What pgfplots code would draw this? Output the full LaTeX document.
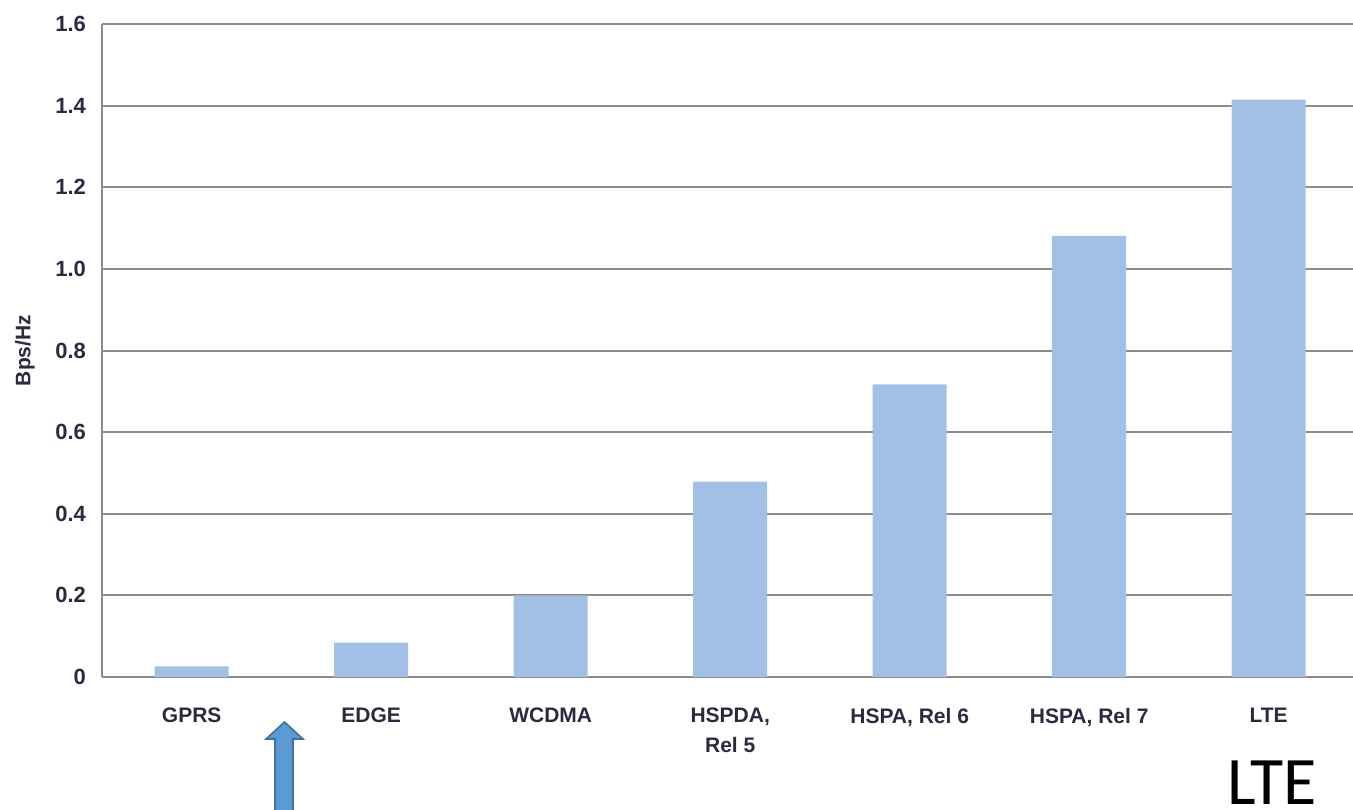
\documentclass[border=0pt]{standalone}
\usepackage{pgfplots}
\pgfplotsset{compat=1.18}
\usepackage{fontspec}
\setmainfont{Liberation Sans}
\newfontfamily\calib{Carlito}
\definecolor{barblue}{HTML}{A2C0E5}
\definecolor{gridgray}{HTML}{8C8C8C}
\definecolor{txt}{HTML}{2A2A40}
\definecolor{arrowfill}{HTML}{5B9BD5}
\definecolor{arrowdraw}{HTML}{41719C}
\begin{document}
\begin{tikzpicture}
\useasboundingbox (-51pt,-66pt) rectangle (625.5pt,338.5pt);
\begin{axis}[
  at={(0,0)}, anchor=south west,
  scale only axis,
  width=625.5pt, height=326.5pt,
  xmin=-0.5, xmax=6.47,
  ymin=0, ymax=1.6,
  axis x line*=bottom, axis y line*=left,
  axis line style={draw=gridgray, line width=1pt, -},
  ytick={0,0.2,0.4,0.6,0.8,1.0,1.2,1.4,1.6},
  yticklabels={0,0.2,0.4,0.6,0.8,1.0,1.2,1.4,1.6},
  xtick={0,1,2,3,4,5,6},
  xticklabels={GPRS,EDGE,WCDMA,{HSPDA,\\Rel 5},{HSPA, Rel 6},{HSPA, Rel 7},LTE},
  major tick length=0pt,
  ymajorgrids,
  grid style={draw=gridgray, line width=1pt},
  /pgf/number format/assume math mode=true,
  yticklabel style={font=\fontsize{11}{13}\selectfont\bfseries, text=txt, xshift=-4.5pt},
  xticklabel style={font=\fontsize{10.5}{15}\selectfont\bfseries, text=txt, align=center, anchor=north, yshift=-12pt},
  ylabel={Bps/Hz},
  ylabel style={font=\fontsize{10.5}{12}\selectfont\bfseries, text=txt, at={(axis description cs:-0.0616,0.5)}, anchor=center},
  clip=false,
]
\addplot[ybar, bar width=37pt, fill=barblue, draw=none] coordinates {
  (0,0.026) (1,0.084) (2,0.200) (3,0.479) (4,0.717) (5,1.081) (6,1.415)
};
\end{axis}
% annotation arrow
\draw[fill=arrowfill, draw=arrowdraw, line width=0.8pt]
  (86.5pt,-75pt) -- (86.5pt,-31pt) -- (82pt,-31pt) -- (91.25pt,-22.5pt)
  -- (100.5pt,-31pt) -- (95.5pt,-31pt) -- (95.5pt,-75pt) -- cycle;
\node[anchor=base, inner sep=0pt, font=\calib\fontsize{34}{40}\selectfont] at (585pt,-63.5pt) {LTE};
\end{tikzpicture}
\end{document}
